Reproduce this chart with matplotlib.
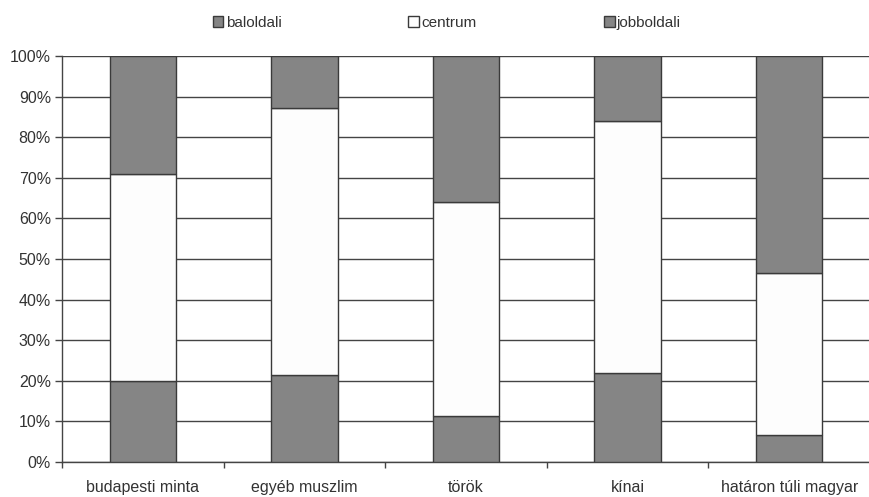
import numpy as np
import matplotlib.pyplot as plt
from matplotlib.patches import Patch

categories = ['budapesti minta', 'egyéb muszlim', 'török', 'kínai', 'határon túli magyar']
baloldali = [20, 21.5, 11.3, 22, 6.6]
centrum = [51, 65.7, 52.7, 62, 39.9]
jobboldali = [29, 12.8, 36, 16, 53.5]
series_names = ['baloldali', 'centrum', 'jobboldali']

plt.rcParams['font.family'] = ['Liberation Sans', 'DejaVu Sans']

dark = '#858585'
light = '#fdfdfd'
edge = '#3a3a3a'

fig = plt.figure(figsize=(8.7, 4.97), dpi=100)
ax = fig.add_axes([62 / 870, 35 / 497, 1 - 62 / 870, 406 / 497])

x = np.arange(len(categories))
w = 0.41
b1 = np.array(baloldali)
b2 = b1 + np.array(centrum)
ax.bar(x, baloldali, w, color=dark, edgecolor=edge, linewidth=1.0, zorder=3)
ax.bar(x, centrum, w, bottom=b1, color=light, edgecolor=edge, linewidth=1.0, zorder=3)
ax.bar(x, jobboldali, w, bottom=b2, color=dark, edgecolor=edge, linewidth=1.0, zorder=3)

ax.set_ylim(0, 100)
ax.set_xlim(-0.5, 4.48)
ax.set_yticks(np.arange(0, 101, 10))
ax.set_yticklabels([f'{v}%' for v in range(0, 101, 10)], fontsize=11.5, color='#333333')
ax.yaxis.grid(True, color='#444444', linewidth=1.0, zorder=0)
ax.set_axisbelow(True)

ax.set_xticks(x)
ax.set_xticklabels(categories, fontsize=11.5, color='#333333')
ax.tick_params(axis='x', length=0, pad=13)
ax.set_xticks(np.arange(-0.5, 5, 1), minor=True)
ax.tick_params(axis='x', which='minor', length=4, color='#444444', width=1.0)
ax.tick_params(axis='y', length=5, color='#444444', width=1.0, pad=3)

for s in ['top', 'right']:
    ax.spines[s].set_visible(False)
for s in ['left', 'bottom']:
    ax.spines[s].set_color('#444444')
    ax.spines[s].set_linewidth(1.0)

handles = [Patch(facecolor=dark, edgecolor=edge), Patch(facecolor=light, edgecolor=edge),
           Patch(facecolor=dark, edgecolor=edge)]
leg = fig.legend(handles, series_names, loc='center left', bbox_to_anchor=(205 / 870, 1 - 23 / 497), ncol=3,
                 frameon=False, fontsize=11, handlelength=0.7, handleheight=0.7, handletextpad=0.15,
                 columnspacing=8.32, borderpad=0)
for t in leg.get_texts():
    t.set_color('#333333')

fig.savefig('out.png', dpi=100)
